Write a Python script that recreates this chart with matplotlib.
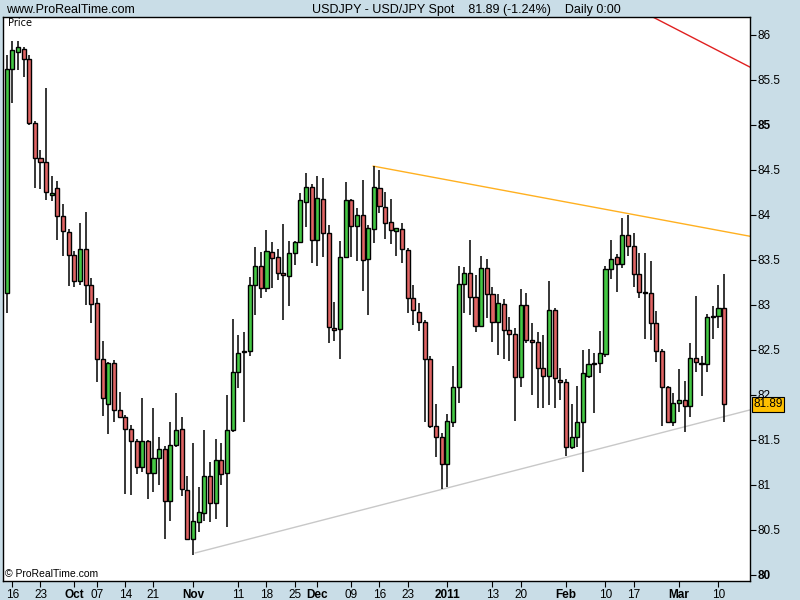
import pandas as pd
import matplotlib
matplotlib.use("Agg")
import matplotlib.pyplot as plt
from matplotlib import font_manager

# USD/JPY daily candles, 15 Sep 2010 -> 11 Mar 2011 (weekdays)
dates = pd.bdate_range("2010-09-15", "2011-03-11")

opens = [83.13, 85.62, 85.81, 85.84, 85.73, 85.02, 84.63, 84.59, 84.22, 84.30,
         83.98, 83.81, 83.55, 83.26, 83.62, 83.22, 83.02, 82.40, 81.89, 82.35,
         81.83, 81.75, 81.62, 81.48, 81.20, 81.48, 81.13, 81.29, 81.40, 80.82,
         81.44, 81.62, 80.94, 80.39, 80.58, 80.68, 81.09, 80.80, 81.27, 81.13,
         81.61, 82.25, 82.47, 82.48, 83.22, 83.43, 83.19, 83.59, 83.53, 83.35,
         83.32, 83.57, 83.70, 84.14, 84.31, 83.72, 84.18, 83.80, 82.74, 82.73,
         83.53, 84.16, 83.87, 84.00, 83.51, 83.84, 84.30, 84.09, 83.92, 83.82,
         83.84, 83.61, 83.07, 82.92, 82.81, 82.40, 81.65, 81.53, 81.23, 81.70,
         82.09, 83.23, 83.35, 83.08, 82.76, 83.41, 83.12, 82.81, 83.01, 82.72,
         82.67, 82.20, 83.00, 82.60, 82.59, 82.30, 82.21, 82.94, 82.16, 82.14,
         81.42, 81.53, 81.69, 82.21, 82.34, 82.35, 82.45, 83.40, 83.53, 83.45,
         83.77, 83.65, 83.34, 83.13, 83.13, 82.80, 82.48, 82.09, 81.69, 81.91,
         81.94, 81.87, 82.41, 82.35, 82.34, 82.86, 82.87, 82.96]
highs = [85.78, 85.93, 85.93, 85.86, 85.77, 85.04, 84.72, 85.41, 84.43, 84.38,
         84.12, 83.84, 83.60, 83.91, 84.03, 83.30, 83.07, 82.60, 82.36, 82.38,
         82.03, 81.77, 81.66, 81.51, 81.96, 81.50, 81.85, 81.53, 81.43, 81.69,
         82.02, 81.75, 81.09, 81.46, 80.97, 81.61, 81.25, 81.51, 81.46, 82.00,
         82.84, 82.66, 82.70, 83.31, 83.64, 83.59, 83.83, 83.70, 83.62, 83.90,
         83.71, 83.71, 84.24, 84.46, 84.34, 84.43, 84.41, 83.89, 83.03, 83.71,
         84.36, 84.17, 84.07, 84.39, 83.89, 84.54, 84.50, 84.25, 84.17, 83.85,
         83.91, 83.63, 83.22, 83.02, 82.83, 82.43, 81.90, 81.57, 81.78, 82.32,
         83.43, 83.42, 83.72, 83.33, 83.54, 83.51, 83.20, 83.12, 83.06, 82.86,
         82.74, 83.17, 83.13, 82.80, 82.70, 82.66, 83.26, 82.96, 82.30, 82.17,
         81.90, 82.10, 82.50, 82.51, 82.46, 82.71, 83.43, 83.72, 83.56, 83.96,
         84.00, 83.80, 83.57, 83.57, 83.48, 82.93, 82.51, 82.10, 82.02, 82.28,
         82.15, 82.57, 83.10, 82.43, 82.90, 82.98, 83.22, 83.34]
lows = [82.91, 85.24, 85.61, 85.53, 85.00, 84.30, 84.29, 84.16, 84.15, 83.72,
        83.54, 83.21, 83.20, 83.22, 83.00, 82.80, 82.14, 81.76, 81.56, 81.69,
        81.74, 80.89, 80.88, 81.12, 81.14, 80.84, 80.92, 80.99, 80.40, 80.60,
        81.42, 80.87, 80.39, 80.22, 80.47, 80.60, 80.58, 80.62, 81.00, 80.53,
        81.58, 82.07, 81.69, 82.43, 82.89, 83.07, 83.14, 83.19, 83.27, 82.83,
        82.98, 83.44, 83.69, 83.86, 83.46, 83.43, 83.53, 82.57, 82.60, 82.40,
        83.53, 83.53, 83.49, 83.15, 82.88, 83.69, 84.02, 83.73, 83.67, 83.54,
        83.46, 82.91, 82.77, 82.71, 81.69, 81.63, 81.31, 80.95, 80.97, 81.64,
        81.91, 82.91, 82.89, 82.70, 82.75, 82.85, 82.59, 82.44, 82.40, 82.37,
        81.71, 82.09, 82.57, 82.00, 81.85, 81.85, 81.88, 81.85, 81.94, 81.32,
        81.39, 81.42, 81.14, 82.19, 81.80, 82.24, 82.42, 83.28, 83.14, 83.41,
        83.54, 83.20, 83.07, 82.62, 82.61, 82.36, 81.65, 81.68, 81.65, 81.81,
        81.58, 81.75, 82.25, 81.98, 82.25, 82.62, 82.74, 81.69]
closes = [85.62, 85.83, 85.86, 85.73, 85.02, 84.63, 84.59, 84.25, 84.24, 83.98,
          83.82, 83.55, 83.26, 83.62, 83.22, 83.01, 82.40, 81.96, 82.35, 81.83,
          81.75, 81.62, 81.48, 81.20, 81.48, 81.13, 81.29, 81.40, 80.82, 81.44,
          81.61, 80.95, 80.40, 80.59, 80.69, 81.09, 80.80, 81.27, 81.12, 81.61,
          82.25, 82.46, 82.48, 83.22, 83.43, 83.19, 83.60, 83.52, 83.35, 83.33,
          83.57, 83.70, 84.16, 84.31, 83.72, 84.19, 83.80, 82.75, 82.72, 83.53,
          84.16, 83.87, 84.00, 83.50, 83.85, 84.31, 84.10, 83.91, 83.83, 83.85,
          83.62, 83.07, 82.94, 82.81, 82.40, 81.65, 81.53, 81.23, 81.71, 82.09,
          83.23, 83.35, 83.09, 82.76, 83.41, 83.12, 82.81, 83.02, 82.72, 82.67,
          82.20, 83.00, 82.61, 82.59, 82.30, 82.21, 82.94, 82.18, 82.14, 81.42,
          81.53, 81.69, 82.24, 82.34, 82.35, 82.46, 83.40, 83.51, 83.45, 83.77,
          83.65, 83.34, 83.14, 83.14, 82.80, 82.48, 82.09, 81.69, 81.91, 81.94,
          81.87, 82.41, 82.36, 82.34, 82.86, 82.87, 82.96, 81.89]

# x axis labels
tick_dates = ["2010-09-16", "2010-09-23", "2010-10-01", "2010-10-07", "2010-10-14",
              "2010-10-21", "2010-11-01", "2010-11-11", "2010-11-18", "2010-11-25",
              "2010-12-01", "2010-12-09", "2010-12-16", "2010-12-23", "2011-01-03",
              "2011-01-13", "2011-01-20", "2011-02-01", "2011-02-10", "2011-02-17",
              "2011-03-01", "2011-03-10"]
tick_labels = ["16", "23", "Oct", "07", "14", "21", "Nov", "11", "18", "25", "Dec",
               "09", "16", "23", "2011", "13", "20", "Feb", "10", "17", "Mar", "10"]
price_ticks = [80, 80.5, 81, 81.5, 82, 82.5, 83, 83.5, 84, 84.5, 85, 85.5, 86]

# trend lines: (bar index, price) end points
red_line = [(114.3, 86.20), (131.6, 85.64)]
orange_line = [(64.9, 84.54), (131.6, 83.76)]
grey_line = [(33.4, 80.24), (131.6, 81.83)]

last_price = 81.89

bg = "#c9dde7"
up_col = "#44c844"
down_col = "#e06464"

# narrow font for the header if we have it
installed = {f.name for f in font_manager.fontManager.ttflist}
if "Liberation Sans Narrow" in installed:
    head_font, head_size = "Liberation Sans Narrow", 10.5
else:
    head_font, head_size = "Liberation Sans", 9
tick_font = "Liberation Sans" if "Liberation Sans" in installed else "DejaVu Sans"

fig = plt.figure(figsize=(8, 6), dpi=100, facecolor=bg)
ax = fig.add_axes([0.004, 0.032, 0.934, 0.94])
ax.set_facecolor("white")

x = list(range(len(dates)))
for i in x:
    o, h, l, c = opens[i], highs[i], lows[i], closes[i]
    ax.vlines(i, l, h, color="black", linewidth=1.1, zorder=2)
    col = up_col if c >= o else down_col
    height = max(abs(c - o), 0.012)
    ax.bar(i, height, bottom=min(o, c), width=0.72, color=col,
           edgecolor="black", linewidth=1.0, zorder=3)

for line, col in [(red_line, "#e02020"), (orange_line, "#ffb020"), (grey_line, "#c8c8c8")]:
    ax.plot([p[0] for p in line], [p[1] for p in line], color=col, linewidth=1.0, zorder=1)

ax.set_xlim(-0.6, 131.65)
ax.set_ylim(79.93, 86.2)

# x ticks
pos = [dates.get_loc(pd.Timestamp(d)) for d in tick_dates]
ax.set_xticks(pos)
ax.set_xticklabels(tick_labels, fontsize=8.5, family=tick_font)
for lab in ax.get_xticklabels():
    if not lab.get_text().isdigit() or lab.get_text() == "2011":
        lab.set_fontweight("bold")
ax.tick_params(axis="x", direction="out", length=4, pad=2, colors="black")

# y ticks on the right
ax.yaxis.tick_right()
ax.set_yticks(price_ticks)
ax.set_yticklabels(["{:g}".format(p) for p in price_ticks], fontsize=8.5,
                   family=tick_font)
for lab in ax.get_yticklabels():
    if lab.get_text() in ("80", "85"):
        lab.set_fontweight("bold")
ax.tick_params(axis="y", direction="out", length=4, pad=1)

for sp in ax.spines.values():
    sp.set_color("black")
    sp.set_linewidth(1.0)

# last price tag, half covers the 82 label like the original
ax.annotate("{:.2f}".format(last_price), xy=(1.004, last_price),
            xycoords=("axes fraction", "data"), ha="left", va="center",
            fontsize=8.5, family=tick_font, zorder=10, annotation_clip=False,
            bbox=dict(boxstyle="square,pad=0.12", fc="#ffc000", ec="black", lw=0.8))

ax.text(0.006, 0.997, "Price", transform=ax.transAxes, ha="left", va="top",
        fontsize=7, family="DejaVu Sans")
ax.text(0.003, 0.004, "\u00a9 ProRealTime.com", transform=ax.transAxes, ha="left",
        va="bottom", fontsize=7.5, family=tick_font)

fig.text(0.007, 0.984, "www.ProRealTime.com", ha="left", va="center",
         fontsize=head_size, family=head_font)
fig.text(0.583, 0.984, "USDJPY - USD/JPY Spot    81.89 (-1.24%)    Daily 0:00",
         ha="center", va="center", fontsize=head_size, family=head_font)

fig.savefig("out.png", dpi=100, facecolor=bg)
